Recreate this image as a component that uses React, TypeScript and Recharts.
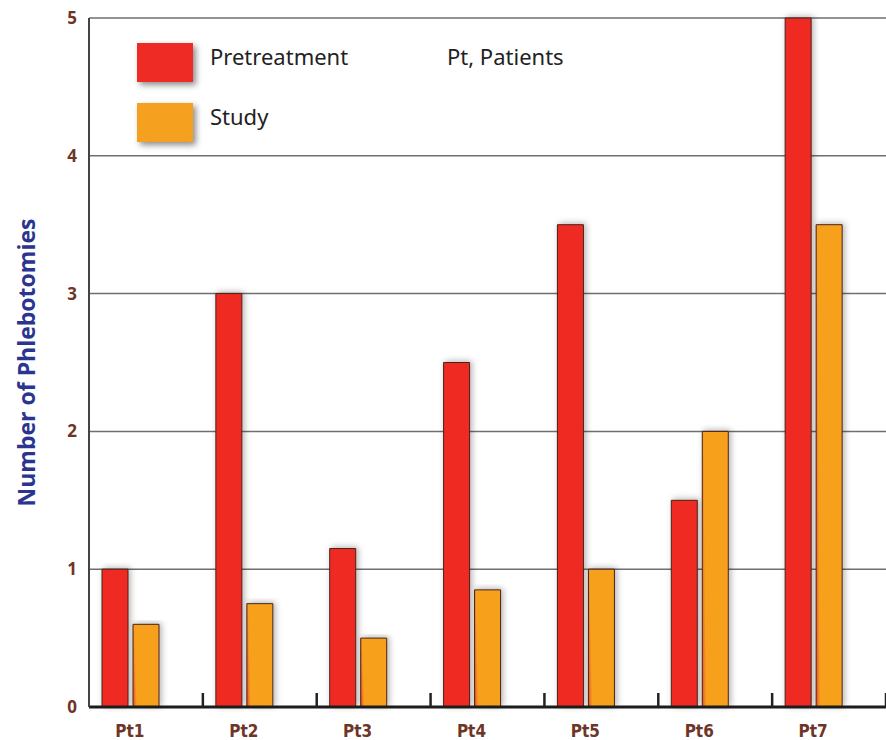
import { BarChart, Bar, XAxis, YAxis, CartesianGrid } from 'recharts';

const patients = ['Pt1', 'Pt2', 'Pt3', 'Pt4', 'Pt5', 'Pt6', 'Pt7'];
const pretreatment = [1.0, 3.0, 1.15, 2.5, 3.5, 1.5, 5.0];
const study = [0.6, 0.75, 0.5, 0.85, 1.0, 2.0, 3.5];
const yTicks = [0, 1, 2, 3, 4, 5];

// third empty slot keeps each pair on the left of its band, as in the original
const data = patients.map((name, i) => ({
  name,
  pretreatment: pretreatment[i],
  study: study[i],
  spacer: 0,
}));

const RED = '#ee2b24';
const ORANGE = '#f6a01f';
const TICK_COLOR = '#6e3527';
const BAND = (886 - 89) / patients.length;

const PatientTick = (props: any) => {
  const { x, y, payload } = props;
  return (
    <g>
      <line x1={x + BAND / 2} x2={x + BAND / 2} y1={y - 22} y2={y - 8} stroke="#222" strokeWidth={2.5} />
      <text
        x={x - 16}
        y={y + 22}
        textAnchor="middle"
        fill={TICK_COLOR}
        style={{ fontSize: 17, fontWeight: 700, fontFamily: "'Liberation Sans Narrow', 'DejaVu Sans Condensed', sans-serif" }}
      >
        {payload.value}
      </text>
    </g>
  );
};

const legendItems = [
  { label: 'Pretreatment', color: RED, top: 43 },
  { label: 'Study', color: ORANGE, top: 103 },
];

export default function App() {
  return (
    <div style={{ position: 'absolute', left: 0, top: 0, width: 886, height: 740, background: '#fff' }}>
      <BarChart
        width={886}
        height={740}
        data={data}
        margin={{ top: 18, right: 0, bottom: 3, left: 0 }}
        barCategoryGap={13}
        barGap={5}
      >
        <defs>
          <linearGradient id="orangeFill" x1="0" y1="1" x2="1" y2="0.9">
            <stop offset="0%" stopColor="#ee4a22" />
            <stop offset="15%" stopColor={ORANGE} />
            <stop offset="100%" stopColor={ORANGE} />
          </linearGradient>
          <filter id="shadow" x="-40%" y="-5%" width="180%" height="110%">
            <feDropShadow dx={2} dy={-1} stdDeviation={3} floodColor="#000" floodOpacity={0.3} />
          </filter>
        </defs>
        <CartesianGrid vertical={false} stroke="#6f6f6f" strokeWidth={1.5} />
        <XAxis
          dataKey="name"
          height={30}
          axisLine={{ stroke: '#1c1c1c', strokeWidth: 3 }}
          tickLine={false}
          tick={<PatientTick />}
          interval={0}
        />
        <YAxis
          width={89}
          domain={[0, 5]}
          ticks={yTicks}
          axisLine={{ stroke: '#444', strokeWidth: 2 }}
          tickLine={false}
          tick={{ fill: TICK_COLOR, fontSize: 17, fontWeight: 700, fontFamily: "'Open Sans', sans-serif" }}
          tickMargin={6}
          label={{
            value: 'Number of Phlebotomies',
            angle: -90,
            position: 'insideLeft',
            dx: 22,
            fill: '#2b3590',
            fontSize: 23,
            fontWeight: 700,
            fontFamily: "'Open Sans', sans-serif",
            style: { textAnchor: 'middle' },
          }}
        />
        <Bar
          dataKey="pretreatment"
          name="Pretreatment"
          fill={RED}
          stroke="#4a2318"
          strokeWidth={1}
          filter="url(#shadow)"
          isAnimationActive={false}
        />
        <Bar
          dataKey="study"
          name="Study"
          fill="url(#orangeFill)"
          stroke="#4a2318"
          strokeWidth={1}
          filter="url(#shadow)"
          isAnimationActive={false}
        />
        <Bar dataKey="spacer" fill="transparent" legendType="none" isAnimationActive={false} />
      </BarChart>
      <div style={{ position: 'absolute', left: 137, top: 0, fontFamily: "'Noto Sans', sans-serif", color: '#222' }}>
        {legendItems.map((item) => (
          <div key={item.label}>
            <div
              style={{
                position: 'absolute',
                left: 0,
                top: item.top,
                width: 56,
                height: 39,
                background: item.color,
                boxShadow: '3px 3px 6px rgba(0,0,0,0.45)',
              }}
            />
            <div style={{ position: 'absolute', left: 73, top: item.top - 2, fontSize: 22, lineHeight: '30px', whiteSpace: 'nowrap' }}>
              {item.label}
            </div>
          </div>
        ))}
        <div style={{ position: 'absolute', left: 310, top: 41, fontSize: 22, lineHeight: '30px', whiteSpace: 'nowrap' }}>Pt, Patients</div>
      </div>
    </div>
  );
}
